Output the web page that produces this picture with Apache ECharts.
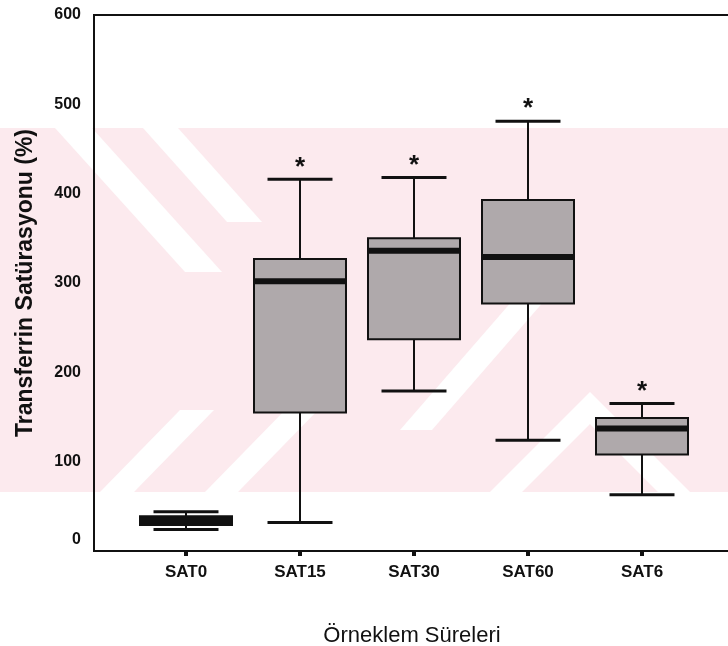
<!DOCTYPE html>
<html><head><meta charset="utf-8">
<script src="https://cdn.jsdelivr.net/npm/echarts@6/dist/echarts.min.js"></script>
<style>html,body{margin:0;padding:0;background:#fff}#c{width:728px;height:646px}</style>
</head><body><div id="c"></div>
<script>
const categories = ['SAT0', 'SAT15', 'SAT30', 'SAT60', 'SAT6'];
const whiskerLow  = [24, 32, 179, 124, 63];
const q1Values    = [29, 155, 237, 277, 108];
const medians     = [34, 302, 336, 329, 137];
const q3Values    = [39, 327, 350, 393, 149];
const whiskerHigh = [44, 416, 418, 481, 165];
const starred     = [0, 1, 1, 1, 1];
const yMin = 0, yMax = 600, yStep = 100;

const boxData = categories.map((c, i) => [i, whiskerLow[i], q1Values[i], medians[i], q3Values[i], whiskerHigh[i], starred[i]]);

const FONT = '"Liberation Sans", Arial, sans-serif';
const INK = '#111';
const PINK = '#fceaee';

const chart = echarts.init(document.getElementById('c'), null, {renderer: 'canvas'});
chart.setOption({
  animation: false,
  backgroundColor: '#fff',
  graphic: [
    {type: 'rect', z: -100, shape: {x: 0, y: 128, width: 728, height: 364}, style: {fill: PINK}},
    {type: 'polygon', z: -99, shape: {points: [[55,128],[92,128],[222,272],[185,272]]}, style: {fill: '#fff'}},
    {type: 'polygon', z: -99, shape: {points: [[143,128],[178,128],[262,222],[227,222]]}, style: {fill: '#fff'}},
    {type: 'polygon', z: -99, shape: {points: [[100,492],[134,492],[214,410],[180,410]]}, style: {fill: '#fff'}},
    {type: 'polygon', z: -99, shape: {points: [[205,492],[238,492],[320,408],[287,408]]}, style: {fill: '#fff'}},
    {type: 'polygon', z: -99, shape: {points: [[400,430],[432,430],[545,300],[513,300]]}, style: {fill: '#fff'}},
    {type: 'polygon', z: -99, shape: {points: [[590,392],[690,492],[658,492],[590,424],[522,492],[490,492]]}, style: {fill: '#fff'}}
  ],
  grid: [
    {left: 94, width: 636, top: 15, bottom: 95, outerBoundsMode: 'none', containLabel: false,
     show: true, borderColor: INK, borderWidth: 2, backgroundColor: 'transparent'},
    {left: 129, width: 570, top: 15, bottom: 95, outerBoundsMode: 'none', containLabel: false}
  ],
  xAxis: [
    {gridIndex: 0, type: 'value', min: 0, max: 1,
     axisLine: {show: false}, axisTick: {show: false}, axisLabel: {show: false}, splitLine: {show: false},
     name: 'Örneklem Süreleri', nameLocation: 'middle', nameGap: 74,
     nameTextStyle: {fontFamily: FONT, fontSize: 22, color: INK}},
    {gridIndex: 1, type: 'category', data: categories, boundaryGap: true,
     axisLine: {show: false},
     axisTick: {show: true, alignWithLabel: true, length: 5, lineStyle: {color: INK, width: 4}},
     axisLabel: {margin: 13, fontFamily: FONT, fontSize: 17, fontWeight: 'bold', color: INK},
     splitLine: {show: false}}
  ],
  yAxis: [
    {gridIndex: 0, type: 'value', min: yMin, max: yMax, interval: yStep,
     axisLine: {show: false}, axisTick: {show: false}, splitLine: {show: false},
     axisLabel: {margin: 13, fontFamily: FONT, fontSize: 16, fontWeight: 'bold', color: INK,
       formatter: v => v === 0 ? '{z|0}' : String(v),
       rich: {z: {fontFamily: FONT, fontSize: 16, fontWeight: 'bold', color: INK, padding: [0, 0, 22, 0]}}},
     name: 'Transferrin Satürasyonu (%)', nameLocation: 'middle', nameGap: 57, nameRotate: 90,
     nameTextStyle: {fontFamily: FONT, fontSize: 23, fontWeight: 'bold', color: INK}},
    {gridIndex: 1, type: 'value', min: yMin, max: yMax, interval: yStep, show: false}
  ],
  series: [{
    type: 'custom',
    xAxisIndex: 1, yAxisIndex: 1,
    encode: {x: 0, y: [1, 2, 3, 4, 5]},
    data: boxData,
    renderItem: function (params, api) {
      const i = api.value(0);
      const pLo = api.coord([i, api.value(1)]);
      const pQ1 = api.coord([i, api.value(2)]);
      const pMed = api.coord([i, api.value(3)]);
      const pQ3 = api.coord([i, api.value(4)]);
      const pHi = api.coord([i, api.value(5)]);
      const band = api.size([1, 0])[0];
      const x = pMed[0];
      const bw = band * 0.807;
      const cw = band * 0.57;
      const children = [
        {type: 'line', shape: {x1: x, y1: pQ1[1], x2: x, y2: pLo[1]}, style: {stroke: INK, lineWidth: 2}},
        {type: 'line', shape: {x1: x, y1: pQ3[1], x2: x, y2: pHi[1]}, style: {stroke: INK, lineWidth: 2}},
        {type: 'line', shape: {x1: x - cw / 2, y1: pLo[1], x2: x + cw / 2, y2: pLo[1]}, style: {stroke: INK, lineWidth: 3}},
        {type: 'line', shape: {x1: x - cw / 2, y1: pHi[1], x2: x + cw / 2, y2: pHi[1]}, style: {stroke: INK, lineWidth: 3}},
        {type: 'rect', shape: {x: x - bw / 2, y: pQ3[1], width: bw, height: pQ1[1] - pQ3[1]},
         style: {fill: i === 0 ? INK : '#afa9ab', stroke: INK, lineWidth: 2}},
        {type: 'line', shape: {x1: x - bw / 2, y1: pMed[1], x2: x + bw / 2, y2: pMed[1]}, style: {stroke: INK, lineWidth: 6}}
      ];
      if (api.value(6)) {
        children.push({type: 'text', x: x, y: pHi[1] - 12,
          style: {text: '*', fontFamily: FONT, fontSize: 26, fontWeight: 'bold', fill: INK, align: 'center', verticalAlign: 'middle'}});
      }
      return {type: 'group', children: children};
    }
  }]
});
</script></body></html>
